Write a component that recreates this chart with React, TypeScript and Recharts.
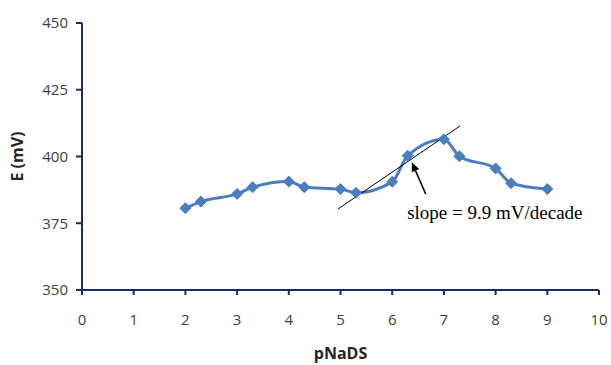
import { LineChart, Line, XAxis, YAxis, ReferenceLine, ReferenceDot } from 'recharts';

const pNaDS = [2, 2.3, 3, 3.3, 4, 4.3, 5, 5.3, 6, 6.3, 7, 7.3, 8, 8.3, 9];
const potential = [380.6, 383.1, 386.0, 388.5, 390.6, 388.5, 387.8, 386.4, 390.5, 400.3, 406.5, 400.1, 395.5, 390.0, 387.8];
const xTicks = [0, 1, 2, 3, 4, 5, 6, 7, 8, 9, 10];
const yTicks = [350, 375, 400, 425, 450];
const tangent = [
  { x: 4.95, y: 380.3 },
  { x: 7.31, y: 411.4 },
];
const arrow = [
  { x: 6.65, y: 385.9 },
  { x: 6.38, y: 397.8 },
];
const slopeLabel = 'slope = 9.9 mV/decade';

const data = pNaDS.map((x, i) => ({ x, e: potential[i] }));

const AXIS = '#1b2a6b';
const SERIES = '#4a7ebf';
const sans = '"Open Sans", sans-serif';

function Diamond(props: any) {
  const { cx, cy } = props;
  if (cx == null || cy == null) return null;
  const r = 5.5;
  return (
    <polygon
      points={`${cx},${cy - r} ${cx + r},${cy} ${cx},${cy + r} ${cx - r},${cy}`}
      fill={SERIES}
      stroke={SERIES}
    />
  );
}

function ArrowShape(props: any) {
  const { x1, y1, x2, y2 } = props;
  const ang = Math.atan2(y2 - y1, x2 - x1);
  const len = 9;
  const w = 4;
  const bx = x2 - len * Math.cos(ang);
  const by = y2 - len * Math.sin(ang);
  const px = -Math.sin(ang) * w;
  const py = Math.cos(ang) * w;
  return (
    <g>
      <line x1={x1} y1={y1} x2={bx} y2={by} stroke="#000" strokeWidth={1.5} />
      <polygon points={`${x2},${y2} ${bx + px},${by + py} ${bx - px},${by - py}`} fill="#000" />
    </g>
  );
}

function SlopeText(props: any) {
  const { cx, cy } = props;
  return (
    <text x={cx} y={cy} fontFamily='"Liberation Serif", serif' fontSize={19} fill="#000">
      {slopeLabel}
    </text>
  );
}

export default function App() {
  return (
    <div style={{ position: 'absolute', left: 0, top: 0, background: '#fff' }}>
      <LineChart width={611} height={365} data={data} margin={{ top: 23, right: 12, bottom: 0, left: 0 }}>
        <XAxis
          dataKey="x"
          type="number"
          domain={[0, 10]}
          ticks={xTicks}
          height={75}
          stroke={AXIS}
          strokeWidth={2}
          tickSize={5}
          tickMargin={19}
          tick={{ fill: '#404040', fontSize: 15, fontFamily: sans }}
          label={{
            value: 'pNaDS',
            position: 'insideBottom',
            offset: 6,
            style: { fill: '#262626', fontSize: 16, fontWeight: 700, fontFamily: sans },
          }}
        />
        <YAxis
          type="number"
          domain={[350, 450]}
          ticks={yTicks}
          width={82}
          stroke={AXIS}
          strokeWidth={2}
          tickSize={6}
          tickMargin={8}
          tick={{ fill: '#404040', fontSize: 15, fontFamily: sans }}
          label={{
            value: 'E (mV)',
            angle: -90,
            position: 'insideLeft',
            offset: 17,
            style: { fill: '#262626', fontSize: 16, fontWeight: 700, fontFamily: sans, textAnchor: 'middle' },
          }}
        />
        <Line
          dataKey="e"
          stroke={SERIES}
          strokeWidth={3}
          type="monotone"
          dot={<Diamond />}
          activeDot={false}
          isAnimationActive={false}
        />
        <ReferenceLine segment={tangent} stroke="#000" strokeWidth={1} />
        <ReferenceLine segment={arrow} shape={<ArrowShape />} />
        <ReferenceDot x={6.29} y={376.6} r={0} shape={<SlopeText />} />
      </LineChart>
    </div>
  );
}
